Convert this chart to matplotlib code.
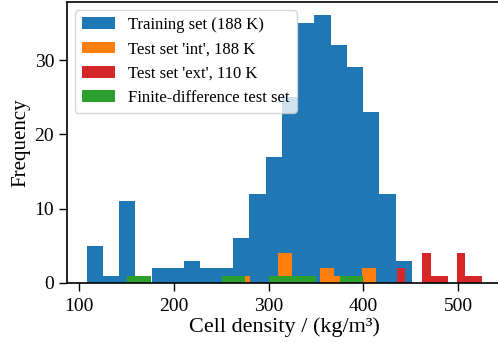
import numpy as np
import matplotlib
matplotlib.use("Agg")
import matplotlib.pyplot as plt

# Training set: 20 bins
train_lo, train_hi = 107.8, 451.3
train_counts = [5, 1, 11, 0, 2, 2, 3, 2, 2, 6, 12, 17, 25, 35, 36, 32, 29, 23, 12, 3]
# Test set 'int': 10 bins
int_lo, int_hi = 265.5, 413.0
int_counts = [1, 0, 0, 4, 0, 0, 2, 1, 0, 2]
# Test set 'ext': 10 bins
ext_lo, ext_hi = 435.1, 525.4
ext_counts = [2, 0, 0, 4, 1, 1, 0, 4, 1, 1]
# Finite-difference test set: 10 bins
fd_lo, fd_hi = 150.6, 400.0
fd_counts = [1, 0, 0, 0, 1, 0, 1, 1, 0, 1]

labels = ["Training set (188 K)", "Test set 'int', 188 K",
          "Test set 'ext', 110 K", "Finite-difference test set"]
colors = ["#1f77b4", "#ff7f0e", "#d62728", "#2ca02c"]

plt.rcParams['font.family'] = ['Liberation Serif', 'DejaVu Serif']

fig = plt.figure(figsize=(4.98, 3.43), dpi=100)
ax = fig.add_axes([0.134, 0.175, 0.874, 0.819])

sets = [(train_lo, train_hi, train_counts), (int_lo, int_hi, int_counts),
        (ext_lo, ext_hi, ext_counts), (fd_lo, fd_hi, fd_counts)]
for (lo, hi, counts), lab, col in zip(sets, labels, colors):
    edges = np.linspace(lo, hi, len(counts) + 1)
    centers = 0.5 * (edges[:-1] + edges[1:])
    ax.hist(centers, bins=edges, weights=counts, color=col, label=lab)

ax.set_xticks([100, 200, 300, 400, 500])
ax.set_yticks([0, 10, 20, 30])
ax.tick_params(labelsize=14, length=5.5, width=1)
ax.tick_params(axis='x', pad=5)
for s in ax.spines.values():
    s.set_linewidth(1.2)
ax.set_xlabel("Cell density / (kg/m³)", fontsize=16, labelpad=2)
ax.set_ylabel("Frequency", fontsize=15, labelpad=3)
ax.legend(loc="upper left", fontsize=12, handlelength=2.0)

fig.savefig("out.png", dpi=100)
